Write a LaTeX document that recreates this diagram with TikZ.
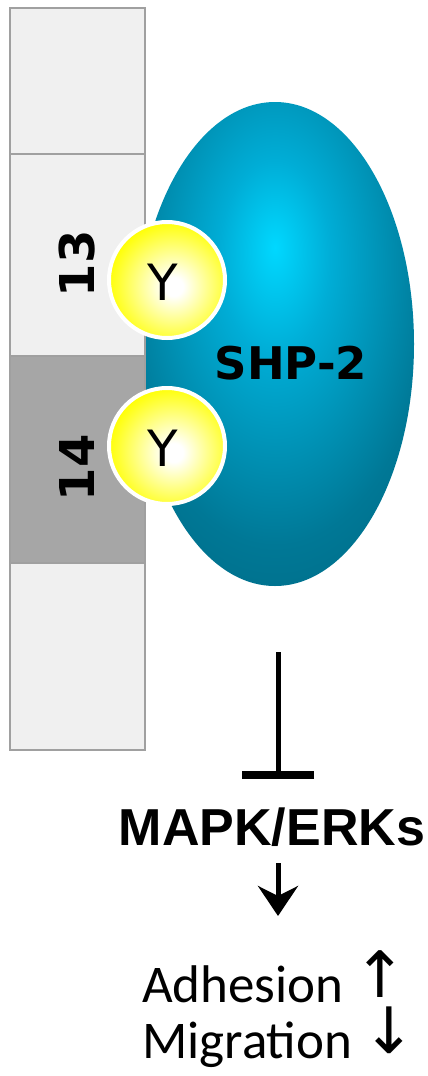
\documentclass[tikz,border=0pt]{standalone}
\usepackage{fontspec}
\setmainfont{DejaVu Sans}
\newfontfamily\libsans{Liberation Sans}
\newfontfamily\carl{Carlito}
\newfontfamily\dvs{DejaVu Sans}
\usetikzlibrary{shapes.geometric,arrows.meta}
\definecolor{boxlight}{HTML}{F0F0F0}
\definecolor{boxdark}{HTML}{A6A6A6}
\definecolor{boxedge}{HTML}{A0A0A0}
\definecolor{shpin}{HTML}{00D8FF}
\definecolor{shpmid}{HTML}{00ADD6}
\definecolor{shpmid2}{HTML}{007896}
\definecolor{shpout}{HTML}{005A70}
\definecolor{ylw}{HTML}{FFFF00}
\pgfdeclareradialshading{shpshade}{\pgfpoint{0bp}{10bp}}{color(0bp)=(shpin); color(10bp)=(shpmid); color(28bp)=(shpmid2); color(50bp)=(shpout); color(100bp)=(shpout)}
\pgfdeclareradialshading{yshade}{\pgfpoint{3bp}{-3bp}}{color(0bp)=(white); color(4bp)=(white); color(28bp)=(ylw); color(100bp)=(ylw)}
\newcommand{\effarrow}[1]{\smash{\raisebox{5pt}{\dvs\fontsize{64}{64}\selectfont #1}}}
\begin{document}
\begin{tikzpicture}[x=1pt,y=-1pt,
  segment/.style={draw=boxedge, line width=1.5pt, minimum width=135pt, inner sep=0pt, rectangle},
  ball/.style={circle, draw=white, line width=4pt, minimum size=116pt, inner sep=0pt, shading=yshade},
  ylabel/.style={font=\dvs\fontsize{50}{50}\selectfont},
  numlabel/.style={font=\dvs\bfseries\fontsize{48}{48}\selectfont, rotate=90},
  effect/.style={font=\carl\fontsize{53}{53}\selectfont, anchor=base west, inner sep=0pt},
]
\useasboundingbox (0,0) rectangle (428,1076);
\node[ellipse, minimum width=278pt, minimum height=484pt, inner sep=0pt, shading=shpshade] (shp) at (275,344) {};
\node[font=\dvs\bfseries\fontsize{45}{45}\selectfont] (shplabel) at (291,363) {SHP-2};
\node[segment, fill=boxlight, minimum height=146pt] (seg1) at (77.5,81) {};
\node[segment, fill=boxlight, minimum height=202pt] (seg2) at (77.5,255) {};
\node[segment, fill=boxdark, minimum height=207pt] (seg3) at (77.5,459.5) {};
\node[segment, fill=boxlight, minimum height=187pt] (seg4) at (77.5,656.5) {};
\node[numlabel] (n13) at (77,264) {13};
\node[numlabel] (n14) at (77,468) {14};
\node[ball] (y1) at (167,280) {};
\node[ylabel] (y1t) at (163,282) {Y};
\node[ball] (y2) at (167,446) {};
\node[ylabel] (y2t) at (163,448) {Y};
\coordinate (inhtop) at (278,652);
\coordinate (inhend) at (278,779);
\draw[line width=5pt, -{Bar[width=72pt, line width=8pt]}] (inhtop) -- (inhend);
\node[font=\libsans\bfseries\fontsize{52}{52}\selectfont, anchor=base, inner sep=0pt] (mapk) at (272,845) {MAPK/ERKs};
\coordinate (dtop) at (278,863);
\coordinate (dtip) at (278,916);
\draw[line width=5pt, -{Stealth[length=30pt, width=40pt, inset=10pt]}] (dtop) -- (dtip);
\node[effect] (effects) at (142,1002) {\vtop{\baselineskip=56pt\lineskiplimit=-100pt
  \hbox{Adhesion\hspace{-2pt} \effarrow{↑}}
  \hbox{Migration\hspace{-2pt} \effarrow{↓}}}};
\end{tikzpicture}
\end{document}
